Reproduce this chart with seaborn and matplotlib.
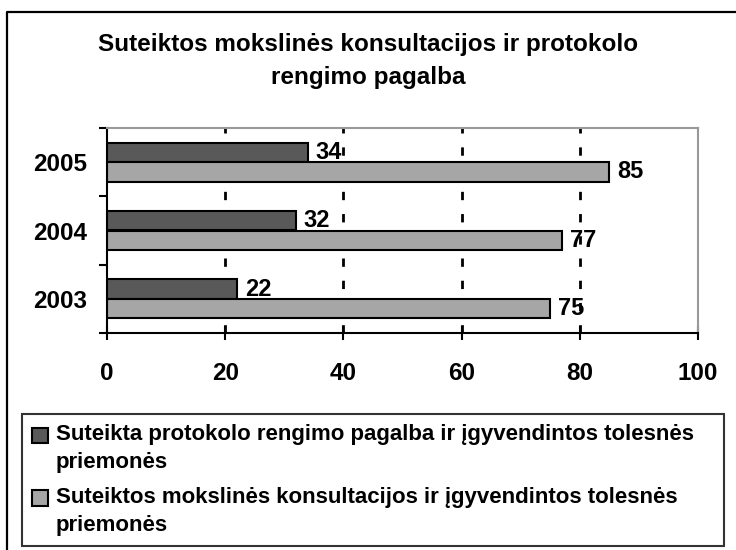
import pandas as pd
import matplotlib
matplotlib.use("Agg")
import matplotlib.pyplot as plt
import seaborn as sns
from matplotlib.lines import Line2D

# Data
years = ["2005", "2004", "2003"]
protokolo = [34, 32, 22]
konsultacijos = [85, 77, 75]
series_names = [
    "Suteikta protokolo rengimo pagalba ir įgyvendintos tolesnės\npriemonės",
    "Suteiktos mokslinės konsultacijos ir įgyvendintos tolesnės\npriemonės",
]
title = "Suteiktos mokslinės konsultacijos ir protokolo\nrengimo pagalba"
x_ticks = [0, 20, 40, 60, 80, 100]

sns.set_theme(style="white", rc={"text.color": "black", "xtick.color": "black",
                                 "ytick.color": "black", "axes.labelcolor": "black"})
plt.rcParams["font.family"] = ["Liberation Sans", "DejaVu Sans"]

df = pd.DataFrame({
    "year": years * 2,
    "value": protokolo + konsultacijos,
    "series": [series_names[0]] * 3 + [series_names[1]] * 3,
})

W, H = 736, 550
fig = plt.figure(figsize=(W / 100, H / 100), dpi=100)
fig.patch.set_facecolor("white")

# outer frame (only left and top edges are inside the picture)
fig.add_artist(Line2D([7 / W, 7 / W, 1], [0, 1 - 12 / H, 1 - 12 / H],
                      transform=fig.transFigure, color="black", linewidth=1.6))

ax = fig.add_axes([107 / W, 1 - 333 / H, (698 - 107) / W, (333 - 128) / H])
sns.barplot(data=df, x="value", y="year", hue="series", order=years,
            hue_order=series_names, palette=["#595959", "#a6a6a6"],
            orient="h", width=0.57, edgecolor="black", linewidth=1.5,
            legend=True, ax=ax)

for cont in ax.containers:
    for t in ax.bar_label(cont, padding=5.5, fontsize=17, fontweight="bold"):
        t.set_zorder(0.5)

ax.set_xlim(0, 100)
ax.set_ylim(2.5, -0.5)
ax.set_xticks(x_ticks)
ax.set_xticklabels([str(t) for t in x_ticks], fontsize=17.5, fontweight="bold")
ax.tick_params(axis="x", direction="inout", length=10, width=1.5, pad=16, bottom=True)

ax.set_yticks([-0.5, 0.5, 1.5, 2.5])
ax.set_yticklabels([])
ax.set_yticks([0, 1, 2], minor=True)
ax.set_yticklabels(years, minor=True, fontsize=17.5, fontweight="bold")
ax.tick_params(axis="y", which="major", direction="out", length=6, width=1.5, left=True)
ax.tick_params(axis="y", which="minor", length=0, pad=14)

ax.set_xlabel("")
ax.set_ylabel("")
for gx in x_ticks[1:-1]:
    ax.axvline(gx, color="black", linestyle=(0, (3, 5)), linewidth=2, zorder=0.8)

ax.spines["left"].set_color("black")
ax.spines["bottom"].set_color("black")
ax.spines["left"].set_linewidth(1.5)
ax.spines["bottom"].set_linewidth(1.5)
ax.spines["top"].set_color("#999999")
ax.spines["right"].set_color("#999999")
ax.spines["top"].set_linewidth(1.5)
ax.spines["right"].set_linewidth(1.5)

fig.text(368 / W, 1 - 61 / H, title, ha="center", va="center",
         fontsize=17.5, fontweight="bold", linespacing=1.55)

handles, labels = ax.get_legend_handles_labels()
ax.get_legend().remove()
leg = fig.legend(handles, labels, loc="upper left",
                 bbox_to_anchor=(22 / W, 1 - 414 / H, (724 - 22) / W, 0),
                 mode="expand", borderaxespad=0, frameon=True, fancybox=False,
                 prop={"size": 16, "weight": "bold"},
                 handlelength=0.7, handleheight=0.7, handletextpad=0.38,
                 labelspacing=0.6, borderpad=0.45)
leg.get_frame().set_edgecolor("black")
leg.get_frame().set_linewidth(1.5)
for t in leg.get_texts():
    t.set_linespacing(1.45)
# put each legend square beside the first line of its label
for h in leg.legend_handles:
    h.set_y(h.get_y() + 9.5)

fig.savefig("out.png", dpi=100)
